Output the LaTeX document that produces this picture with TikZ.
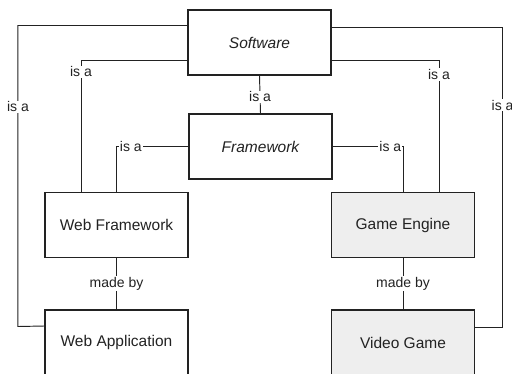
\documentclass[tikz,border=0pt]{standalone}
\usepackage{fontspec}
\setmainfont{Liberation Sans}
\definecolor{boxgray}{HTML}{EEEEEE}
\definecolor{ink}{HTML}{222222}
\begin{document}
\begin{tikzpicture}[x=1pt,y=-1pt,
  box/.style={draw=ink,line width=1.1pt,minimum width=143pt,minimum height=65pt,inner sep=0pt,font=\fontsize{15.5}{18}\selectfont,text=ink},
  grey/.style={box,fill=boxgray},
  conn/.style={draw=ink,line width=0.95pt},
  lbl/.style={fill=white,inner sep=1pt,font=\fontsize{14}{16}\selectfont,text=ink}]
\useasboundingbox (0,0) rectangle (512,373);
\clip (0,0) rectangle (512,373);
\node[box] (sw) at (259.5,42.5) {\itshape Software};
\node[box] (fw) at (260.5,146.5) {\itshape Framework};
\node[box] (wf) at (116.5,225) {Web Framework};
\node[box] (wa) at (116.5,342.5) {Web Application};
\node[grey] (ge) at (403,225) {Game Engine};
\node[grey] (vg) at (403,342.5) {Video Game};
% Software -> Web Application
\draw[conn] ([yshift=17pt]sw.west) -- ++(-169.5,0) -- node[lbl,pos=0.27]{is a} ++(0,301) -- ([yshift=16.5pt]wa.west);
% Software -> Web Framework
\draw[conn] ([yshift=-17.5pt]sw.west) -| node[lbl,pos=0.545]{is a} ([xshift=-35.5pt]wf.north);
% Framework -> Web Framework
\draw[conn] (fw.west) -| node[lbl,pos=0.4]{is a} (wf.north);
% Software -> Framework
\draw[conn] (sw.south) -- node[lbl,pos=0.56]{is a} (fw.north);
% Framework -> Game Engine
\draw[conn] (fw.east) -| node[lbl,pos=0.41]{is a} (ge.north);
% Software -> Game Engine
\draw[conn] ([yshift=-17.5pt]sw.east) -| node[lbl,pos=0.555]{is a} ([xshift=36pt]ge.north);
% Software -> Video Game
\draw[conn] ([yshift=15.5pt]sw.east) -- ++(171,0) -- node[lbl,pos=0.26]{is a} ++(0,300) -- ([yshift=15.5pt]vg.east);
% made by
\draw[conn] (wf.south) -- node[lbl]{made by} (wa.north);
\draw[conn] (ge.south) -- node[lbl]{made by} (vg.north);
\end{tikzpicture}
\end{document}
